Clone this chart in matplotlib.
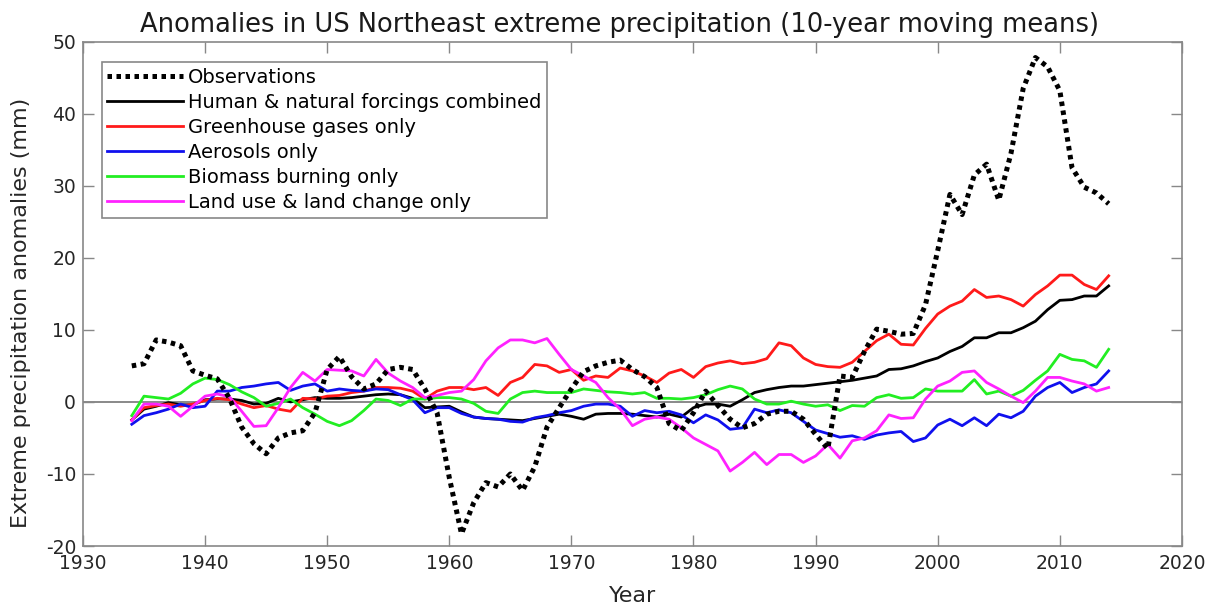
import matplotlib
matplotlib.use("Agg")
import matplotlib.pyplot as plt
import numpy as np

# 10-year moving means, 1934-2014
years = np.arange(1934, 2015)

observations = [
    5.0, 5.3, 8.6, 8.3, 7.8, 4.3, 3.7, 3.2, 0.5, -3.5,
    -5.8, -7.2, -5.0, -4.3, -4.0, -1.5, 4.5, 6.3, 3.5, 1.8,
    2.5, 4.5, 4.8, 4.5, 1.8, -1.5, -10.5, -18.3, -14.0, -11.2,
    -11.8, -10.0, -12.3, -9.0, -3.5, -0.8, 1.8, 4.2, 5.0, 5.5,
    5.8, 4.5, 3.5, 2.0, -3.0, -4.0, -1.5, 1.5, -0.5, -2.4,
    -3.6, -3.0, -1.7, -1.3, -1.3, -2.4, -4.5, -6.5, 3.6, 3.4,
    7.0, 10.1, 9.8, 9.4, 9.5, 13.5, 21.0, 28.8, 26.0, 31.5,
    33.0, 28.0, 34.5, 43.5, 47.8, 46.5, 43.2, 32.5, 29.8, 29.0,
    27.5,
]
combined = [
    -2.5, -1.0, -0.6, -0.1, -0.4, -0.4, 0.3, 0.4, 0.4, 0.2,
    -0.3, -0.2, 0.5, 0.0, 0.3, 0.6, 0.5, 0.5, 0.6, 0.8,
    1.0, 1.1, 1.0, 0.5, -0.8, -0.7, -0.6, -1.4, -2.1, -2.3,
    -2.4, -2.5, -2.6, -2.3, -2.0, -1.7, -2.0, -2.4, -1.7, -1.6,
    -1.6, -1.7, -1.9, -2.1, -1.7, -2.1, -0.8, -0.3, -0.3, -0.6,
    0.3, 1.3, 1.7, 2.0, 2.2, 2.2, 2.4, 2.6, 2.8, 3.0,
    3.3, 3.6, 4.5, 4.6, 5.0, 5.6, 6.1, 7.0, 7.7, 8.9,
    8.9, 9.6, 9.6, 10.3, 11.2, 12.8, 14.1, 14.2, 14.7, 14.7,
    16.1,
]
ghg = [
    -2.5, -0.8, -0.5, -0.3, -0.6, -0.3, 0.2, 0.5, 0.3, -0.3,
    -0.8, -0.5, -1.0, -1.3, 0.5, 0.4, 0.8, 0.9, 1.3, 1.5,
    2.0, 2.0, 1.9, 1.5, 0.4, 1.5, 2.0, 2.0, 1.7, 2.0,
    0.9, 2.7, 3.4, 5.2, 5.0, 4.1, 4.5, 3.0, 3.6, 3.4,
    4.7, 4.3, 3.6, 2.7, 4.0, 4.5, 3.4, 4.9, 5.4, 5.7,
    5.3, 5.5, 6.0, 8.2, 7.8, 6.1, 5.2, 4.9, 4.8, 5.5,
    7.0, 8.5, 9.4, 8.0, 7.9, 10.2, 12.2, 13.3, 14.0, 15.6,
    14.5, 14.7, 14.2, 13.3, 14.9, 16.1, 17.6, 17.6, 16.3, 15.6,
    17.5,
]
aerosols = [
    -3.1, -1.9, -1.5, -1.0, -0.3, -0.8, -0.6, 1.5, 1.5, 2.0,
    2.2, 2.5, 2.7, 1.6, 2.2, 2.5, 1.5, 1.8, 1.6, 1.5,
    1.8, 1.7, 1.0, 0.3, -1.5, -0.8, -0.8, -1.6, -2.1, -2.3,
    -2.4, -2.7, -2.8, -2.2, -1.9, -1.5, -1.2, -0.6, -0.3, -0.3,
    -0.6, -2.0, -1.2, -1.5, -1.3, -1.8, -2.9, -1.8, -2.5, -3.8,
    -3.6, -1.0, -1.5, -1.1, -1.5, -2.7, -3.9, -4.4, -4.9, -4.7,
    -5.2, -4.6, -4.3, -4.1, -5.5, -5.0, -3.2, -2.4, -3.3, -2.2,
    -3.3, -1.7, -2.2, -1.3, 0.8, 2.0, 2.7, 1.3, 2.0, 2.5,
    4.3,
]
biomass = [
    -1.9, 0.8, 0.6, 0.4, 1.2, 2.5, 3.3, 3.1, 2.4, 1.4,
    0.6, -0.6, -0.2, 0.4, -0.8, -1.7, -2.7, -3.3, -2.6, -1.2,
    0.4, 0.2, -0.5, 0.4, 0.4, 0.6, 0.6, 0.4, -0.2, -1.3,
    -1.6, 0.4, 1.3, 1.5, 1.3, 1.3, 1.3, 1.8, 1.6, 1.4,
    1.3, 1.1, 1.3, 0.5, 0.5, 0.4, 0.6, 1.0, 1.7, 2.2,
    1.8, 0.4, -0.3, -0.3, 0.1, -0.3, -0.6, -0.4, -1.2, -0.5,
    -0.6, 0.6, 1.0, 0.5, 0.6, 1.8, 1.5, 1.5, 1.5, 3.1,
    1.1, 1.5, 0.8, 1.6, 3.0, 4.3, 6.6, 5.9, 5.7, 4.8,
    7.3,
]
land_use = [
    -2.6, -0.3, -0.3, -0.6, -2.0, -0.6, 0.8, 1.1, 0.7, -1.3,
    -3.4, -3.3, -0.8, 2.0, 4.1, 2.9, 4.5, 4.4, 4.3, 3.6,
    5.9, 4.0, 2.9, 2.0, 0.6, 0.9, 1.3, 1.5, 3.1, 5.7,
    7.5, 8.6, 8.6, 8.2, 8.8, 6.6, 4.5, 3.6, 2.7, 0.6,
    -1.0, -3.3, -2.4, -2.1, -2.4, -3.6, -5.0, -5.9, -6.8, -9.6,
    -8.4, -7.0, -8.7, -7.3, -7.3, -8.4, -7.5, -5.9, -7.8, -5.4,
    -5.0, -4.0, -1.8, -2.3, -2.2, 0.4, 2.2, 2.9, 4.1, 4.3,
    2.7, 1.8, 0.8, -0.1, 1.5, 3.4, 3.4, 2.9, 2.5, 1.5,
    2.0,
]

x_ticks = np.arange(1930, 2021, 10)
y_ticks = np.arange(-20, 51, 10)

plt.rcParams['font.family'] = ['DejaVu Sans']
plt.rcParams['axes.unicode_minus'] = False

fig = plt.figure(figsize=(12.11, 6.04), dpi=100)
ax = fig.add_axes([0.0685, 0.096, 0.9075, 0.835])

ax.axhline(0, color='#808080', lw=1.3, zorder=1)

ax.plot(years, observations, color='black', ls=(0, (0.9, 0.9)), lw=3.6, label='Observations', zorder=3)
ax.plot(years, combined, color='black', lw=2.0, label='Human & natural forcings combined')
ax.plot(years, ghg, color='#ff1a1a', lw=2.0, label='Greenhouse gases only')
ax.plot(years, aerosols, color='#1010ee', lw=2.0, label='Aerosols only')
ax.plot(years, biomass, color='#22ee22', lw=2.0, label='Biomass burning only')
ax.plot(years, land_use, color='#ff22ff', lw=2.0, label='Land use & land change only')

ax.set_xlim(1930, 2020)
ax.set_ylim(-20, 50)
ax.set_xticks(x_ticks)
ax.set_yticks(y_ticks)
ax.tick_params(direction='in', length=8, width=1, colors='#888888', labelcolor='#262626',
               labelsize=13.5, top=True, right=True)
ax.tick_params(axis='x', pad=6)
ax.tick_params(axis='y', pad=5)
for sp in ax.spines.values():
    sp.set_color('#888888')
    sp.set_linewidth(1.2)

ax.set_title('Anomalies in US Northeast extreme precipitation (10-year moving means)',
             fontsize=18.5, color='#1a1a1a', pad=7, x=0.488)
ax.set_xlabel('Year', fontsize=16, color='#262626', labelpad=9)
ax.set_ylabel('Extreme precipitation anomalies (mm)', fontsize=16, color='#262626')
ax.yaxis.set_label_coords(-0.047, 0.462)

leg = ax.legend(loc='upper left', bbox_to_anchor=(0.017, 0.96), fontsize=14,
                handlelength=3.9, handletextpad=0.25, labelspacing=0.31,
                borderpad=0.3, borderaxespad=0, fancybox=False, framealpha=1,
                edgecolor='#888888')
leg.get_frame().set_linewidth(1.2)

fig.savefig('out.png', dpi=100)
